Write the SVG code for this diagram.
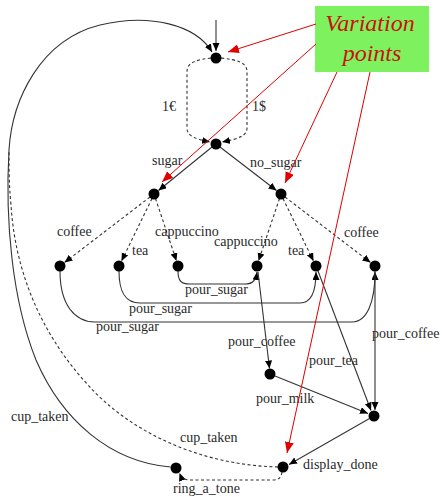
<svg xmlns="http://www.w3.org/2000/svg" width="442" height="497" viewBox="0 0 442 497">
  <style>
    .lbl { font-family: "Liberation Serif", "Times New Roman", serif; font-size: 14px; fill: #2a2a2a; }
    .edge { fill: none; stroke: #333; stroke-width: 1.1; }
    .dash { stroke-dasharray: 3 2.5; }
    .node { fill: #000; }
    .vp { fill: none; stroke: #e00000; stroke-width: 1; }
    .vptext { font-family: "Liberation Serif", "Times New Roman", serif; font-style: italic; font-size: 24px; fill: #cc1010; }
  </style>
  <defs>
    <marker id="arr" markerUnits="userSpaceOnUse" markerWidth="9" markerHeight="8" refX="8" refY="3.5" orient="auto">
      <path d="M0,0 L8,3.5 L0,7 z" fill="#000"/>
    </marker>
    <marker id="rarr" markerUnits="userSpaceOnUse" markerWidth="12" markerHeight="10" refX="11" refY="4.5" orient="auto">
      <path d="M0,0 L11,4.5 L0,9 z" fill="#e00000"/>
    </marker>
  </defs>
  <rect width="442" height="497" fill="#fff"/>

  <g id="connectors">
    <!-- entry -->
    <path class="edge" d="M216,20 L216,51" marker-end="url(#arr)"/>
    <!-- payment alternatives -->
    <path class="edge dash" d="M211,58 C196,60 187,62 187,72 L187,128 C187,136 195,139 210,142" marker-end="url(#arr)"/>
    <path class="edge dash" d="M221,58 C237,60 247,62 247,72 L247,128 C247,136 238,139 222,142" marker-end="url(#arr)"/>
    <text class="lbl" x="162" y="111">1€</text>
    <text class="lbl" x="252" y="111">1$</text>
    <!-- sugar choice -->
    <path class="edge" d="M212,147 L158.5,190.5" marker-end="url(#arr)"/>
    <text class="lbl" x="152" y="165">sugar</text>
    <path class="edge" d="M220,147 L276.5,190.5" marker-end="url(#arr)"/>
    <text class="lbl" x="250" y="167">no_sugar</text>
    <!-- drinks with sugar -->
    <path class="edge dash" d="M150,197 L64.5,262.5" marker-end="url(#arr)"/>
    <text class="lbl" x="57" y="236">coffee</text>
    <path class="edge dash" d="M152,198.5 L121.5,261" marker-end="url(#arr)"/>
    <text class="lbl" x="132" y="255">tea</text>
    <path class="edge dash" d="M155.5,198.5 L176.5,261" marker-end="url(#arr)"/>
    <text class="lbl" x="155" y="236">cappuccino</text>
    <!-- drinks without sugar -->
    <path class="edge dash" d="M279.5,198.5 L258.5,261" marker-end="url(#arr)"/>
    <text class="lbl" x="214" y="246">cappuccino</text>
    <path class="edge dash" d="M283,198.5 L313.5,261" marker-end="url(#arr)"/>
    <text class="lbl" x="288" y="255">tea</text>
    <path class="edge dash" d="M285,197 L370.5,262.5" marker-end="url(#arr)"/>
    <text class="lbl" x="344" y="237">coffee</text>
    <!-- pour_sugar -->
    <path class="edge" d="M178,271 C178,281 181,284 190,284 L245,284 C253,284 256,280 257,272" marker-end="url(#arr)"/>
    <text class="lbl" x="185" y="294">pour_sugar</text>
    <path class="edge" d="M119,271 C119,292 125,303 140,303 L300,303 C311,303 316,292 316,272" marker-end="url(#arr)"/>
    <text class="lbl" x="129" y="313">pour_sugar</text>
    <path class="edge" d="M60,271 C60,305 75,322 95,322 L352,322 C367,322 375,302 375,272" marker-end="url(#arr)"/>
    <text class="lbl" x="96" y="331">pour_sugar</text>
    <!-- preparation -->
    <path class="edge" d="M258,272 L269.5,368.5" marker-end="url(#arr)"/>
    <text class="lbl" x="228" y="346">pour_coffee</text>
    <path class="edge" d="M275,376 L368,413.5" marker-end="url(#arr)"/>
    <text class="lbl" x="256" y="403">pour_milk</text>
    <path class="edge" d="M318,271 L371,410.5" marker-end="url(#arr)"/>
    <text class="lbl" x="309" y="365">pour_tea</text>
    <path class="edge" d="M375,271 L375,410" marker-end="url(#arr)"/>
    <text class="lbl" x="372" y="338">pour_coffee</text>
    <path class="edge" d="M369.5,418.5 L289,464.5" marker-end="url(#arr)"/>
    <text class="lbl" x="303" y="469">display_done</text>
    <!-- ring and return -->
    <path class="edge dash" d="M282,472 C281,478 279,480 272,480 L190,480 C184,480 181,477 179.5,473" marker-end="url(#arr)"/>
    <text class="lbl" x="173" y="493">ring_a_tone</text>
    <path class="edge" d="M170.5,467 C110,462 62,420 36,360 C12,300 5,220 9,150 C12,100 40,40 100,25 C150,13 196,25 212,52" marker-end="url(#arr)"/>
    <text class="lbl" x="11" y="421">cup_taken</text>
    <path class="edge dash" d="M278,467 C200,465 130,432 88,385 C40,333 15,270 11,205 C9,185 9,170 9,150"/>
    <text class="lbl" x="180" y="442">cup_taken</text>
  </g>

  <g id="n_start"><circle class="node" cx="216" cy="58" r="5.5"/></g>
  <g id="n_paid"><circle class="node" cx="216" cy="144" r="5.5"/></g>
  <g id="n_sugar"><circle class="node" cx="154" cy="194" r="5.5"/></g>
  <g id="n_no_sugar"><circle class="node" cx="281" cy="194" r="5.5"/></g>
  <g id="n_s_coffee"><circle class="node" cx="60" cy="266" r="5.5"/></g>
  <g id="n_s_tea"><circle class="node" cx="119" cy="266" r="5.5"/></g>
  <g id="n_s_cappuccino"><circle class="node" cx="178" cy="266" r="5.5"/></g>
  <g id="n_ns_cappuccino"><circle class="node" cx="257" cy="266" r="5.5"/></g>
  <g id="n_ns_tea"><circle class="node" cx="316" cy="266" r="5.5"/></g>
  <g id="n_ns_coffee"><circle class="node" cx="375" cy="266" r="5.5"/></g>
  <g id="n_milk"><circle class="node" cx="270" cy="374" r="5.5"/></g>
  <g id="n_done"><circle class="node" cx="374" cy="416" r="5.5"/></g>
  <g id="n_display"><circle class="node" cx="283" cy="467" r="5.5"/></g>
  <g id="n_ring"><circle class="node" cx="176" cy="468" r="5.5"/></g>

  <g id="variation_points">
    <rect x="315" y="6" width="114" height="66" fill="#7ef25e"/>
    <text class="vptext" x="370" y="31" text-anchor="middle">Variation</text>
    <text class="vptext" x="372" y="61" text-anchor="middle">points</text>
    <path class="vp" d="M316,24 L228,52" marker-end="url(#rarr)"/>
    <path class="vp" d="M316,44 L162,182" marker-end="url(#rarr)"/>
    <path class="vp" d="M337,72 L285,183" marker-end="url(#rarr)"/>
    <path class="vp" d="M370,72 L287,453" marker-end="url(#rarr)"/>
  </g>
</svg>
